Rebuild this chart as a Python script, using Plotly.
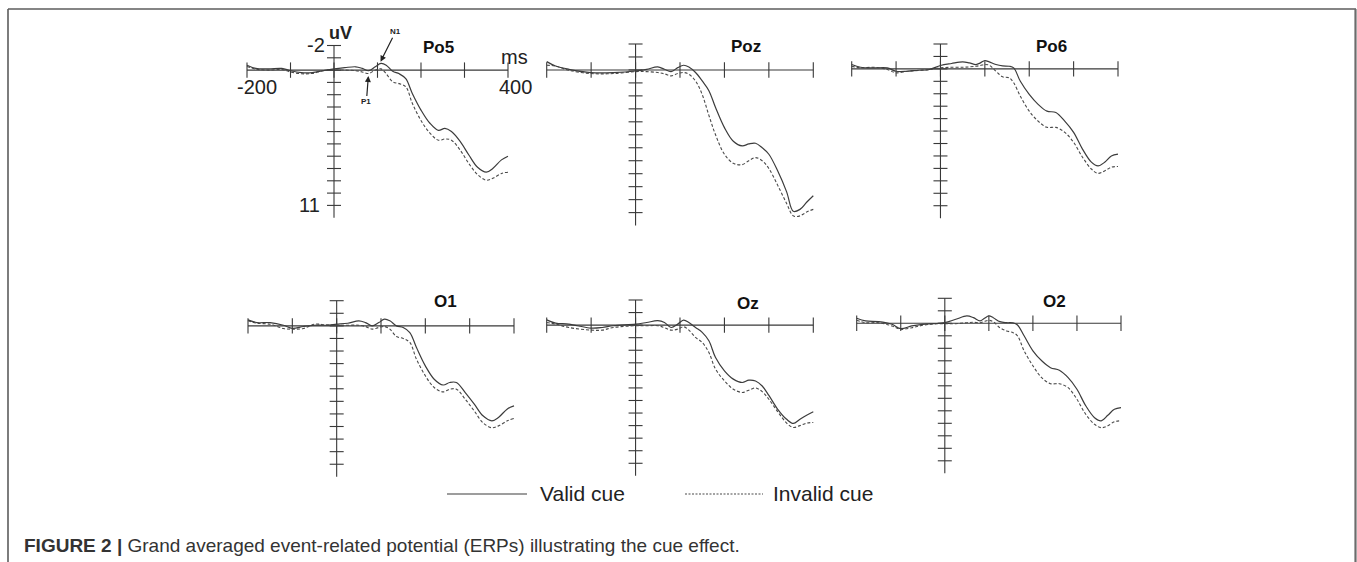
import plotly.graph_objects as go

W, H = 1357, 562

# ---------------- data (ms, uV; negative plotted upward) ----------------
channels = ["Po5", "Poz", "Po6", "O1", "Oz", "O2"]

t_po5 = [-200, -180, -150, -120, -100, -75, -50, -25, 0, 25, 50, 65, 80, 95, 108, 120, 135, 150, 165, 180, 200, 220, 240, 255, 270, 290, 310, 330, 350, 365, 385, 400]
po5_valid = [-0.4, -0.14, -0.1, -0.14, 0.05, 0.2, 0.2, 0.05, -0.1, -0.2, -0.27, -0.14, 0.05, -0.27, -0.54, -0.4, 0.1, 0.3, 0.7, 1.9, 3.25, 4.3, 4.9, 4.74, 5.0, 5.8, 6.9, 7.9, 8.3, 8.0, 7.3, 7.0]
po5_invalid = [-0.3, -0.08, 0.0, -0.05, 0.15, 0.3, 0.27, 0.05, 0.0, 0.0, 0.05, 0.15, 0.27, 0.0, -0.1, 0.3, 0.95, 1.1, 1.35, 2.7, 4.1, 5.1, 5.7, 5.6, 5.7, 6.5, 7.6, 8.5, 8.95, 8.8, 8.4, 8.3]

t_poz = [-200, -180, -150, -100, -50, 0, 25, 50, 65, 80, 95, 108, 120, 135, 150, 165, 180, 200, 220, 240, 255, 270, 285, 300, 320, 340, 355, 370, 385, 400]
poz_valid = [-0.64, -0.3, -0.05, 0.2, 0.2, 0.08, -0.05, -0.23, -0.05, 0.13, -0.18, -0.36, -0.23, 0.2, 0.85, 1.6, 2.9, 4.45, 5.5, 5.86, 5.7, 5.65, 6.0, 6.5, 7.8, 9.4, 10.9, 10.75, 10.2, 9.7]
poz_invalid = [-0.36, -0.3, 0.03, 0.28, 0.28, 0.13, 0.13, 0.2, 0.3, 0.46, 0.28, 0.2, 0.33, 0.85, 1.9, 3.5, 5.0, 6.5, 7.2, 7.3, 7.0, 6.76, 7.0, 7.6, 8.9, 10.3, 11.25, 11.25, 10.95, 10.75]

t_po6 = [-200, -180, -150, -120, -100, -75, -50, -25, 0, 25, 50, 65, 80, 90, 100, 110, 125, 140, 155, 165, 180, 200, 220, 240, 260, 280, 300, 320, 340, 355, 370, 385, 400]
po6_valid = [-0.35, -0.13, -0.08, -0.08, 0.19, 0.19, 0.11, 0.05, -0.27, -0.43, -0.56, -0.48, -0.35, -0.48, -0.67, -0.56, -0.35, -0.24, -0.21, -0.08, 1.0, 2.05, 2.85, 3.4, 3.5, 4.2, 5.1, 6.45, 7.5, 7.8, 7.5, 7.0, 6.85]
po6_invalid = [-0.2, -0.08, -0.13, 0.05, 0.32, 0.19, 0.13, 0.05, -0.08, -0.13, -0.13, -0.16, -0.21, -0.27, -0.35, -0.29, 0.19, 0.64, 0.72, 1.12, 2.2, 3.4, 4.2, 4.7, 4.7, 5.1, 5.9, 7.1, 8.05, 8.4, 8.2, 7.9, 7.85]

t_o1 = [-200, -180, -150, -120, -100, -75, -50, -25, 0, 25, 50, 65, 80, 95, 108, 120, 135, 150, 165, 180, 200, 220, 240, 255, 270, 290, 310, 330, 350, 365, 385, 400]
o1_valid = [-0.48, -0.26, -0.26, -0.05, 0.2, 0.05, -0.05, -0.05, -0.13, -0.21, -0.4, -0.26, 0.0, -0.26, -0.53, -0.4, 0.0, 0.13, 0.53, 1.72, 3.18, 4.24, 4.7, 4.5, 4.5, 5.3, 6.2, 7.15, 7.55, 7.28, 6.6, 6.36]
o1_invalid = [-0.4, -0.21, -0.13, 0.21, 0.26, 0.21, -0.13, -0.08, -0.05, -0.05, -0.05, 0.05, 0.26, 0.13, 0.05, 0.26, 0.85, 1.0, 1.32, 2.65, 3.97, 4.9, 5.25, 5.03, 5.03, 5.83, 6.75, 7.7, 8.1, 7.95, 7.55, 7.36]

t_oz = [-200, -180, -150, -100, -75, -50, 0, 25, 50, 65, 80, 95, 108, 120, 135, 150, 165, 180, 200, 220, 240, 255, 270, 285, 300, 320, 340, 355, 370, 385, 400]
oz_valid = [-0.42, -0.16, -0.08, 0.24, 0.19, 0.05, -0.08, -0.21, -0.35, -0.21, 0.19, -0.08, -0.4, -0.21, 0.19, 0.58, 1.25, 2.58, 3.64, 4.3, 4.57, 4.38, 4.45, 4.85, 5.6, 6.7, 7.5, 7.83, 7.49, 7.17, 6.9]
oz_invalid = [-0.21, -0.08, 0.19, 0.4, 0.4, 0.19, 0.05, 0.05, 0.05, 0.2, 0.4, 0.32, 0.13, 0.4, 0.98, 1.38, 2.18, 3.5, 4.43, 5.1, 5.36, 5.18, 5.0, 5.3, 5.9, 6.9, 7.8, 8.15, 8.0, 7.8, 7.75]

t_o2 = [-200, -180, -150, -120, -100, -75, -50, -25, 0, 25, 50, 65, 80, 90, 100, 110, 125, 140, 155, 165, 180, 200, 220, 240, 260, 280, 300, 320, 340, 355, 370, 385, 400]
o2_valid = [-0.4, -0.19, -0.13, 0.08, 0.43, 0.21, 0.08, 0.03, -0.05, -0.32, -0.59, -0.45, -0.19, -0.4, -0.59, -0.45, -0.13, -0.05, -0.03, 0.13, 1.0, 2.2, 3.0, 3.55, 3.76, 4.35, 5.28, 6.6, 7.55, 7.8, 7.36, 6.88, 6.75]
o2_invalid = [-0.24, -0.05, -0.05, 0.21, 0.48, 0.35, 0.16, 0.05, 0.03, 0.03, -0.05, -0.08, -0.05, -0.16, -0.24, -0.13, 0.35, 0.61, 0.75, 1.0, 2.2, 3.4, 4.35, 4.83, 4.83, 5.15, 6.08, 7.28, 8.08, 8.35, 8.2, 7.87, 7.8]

times = [t_po5, t_poz, t_po6, t_o1, t_oz, t_o2]
valid = [po5_valid, poz_valid, po6_valid, o1_valid, oz_valid, o2_valid]
invalid = [po5_invalid, poz_invalid, po6_invalid, o1_invalid, oz_invalid, o2_invalid]

x_ticks = [-200, -100, 0, 100, 200, 300, 400]
y_ticks = list(range(-2, 12))
legend_labels = ["Valid cue", "Invalid cue"]
caption_bold = "FIGURE 2 |"
caption_text = "Grand averaged event-related potential (ERPs) illustrating the cue effect."

# ---------------- layout geometry (pixels): x at -200, x at 400, y at -2 uV, px per uV ----------------
geom = [
    (247.0, 508.0, 45.5, 12.3),
    (546.7, 813.3, 44.0, 12.97),
    (851.7, 1118.0, 44.0, 12.44),
    (248.0, 514.0, 300.7, 12.58),
    (546.7, 813.3, 300.0, 12.56),
    (856.7, 1121.0, 298.3, 12.5),
]
label_pos = [(241, -1.8), (249, -1.8), (251, -1.8), (245, -1.9), (253, -1.76), (250, -1.78)]

FONT = "Liberation Sans, Arial, sans-serif"
AX = "#383838"
LINE_SOLID = "#3c3c3c"
LINE_DASH = "#4a4a4a"
XPAD, YPAD = 15, 0.6
YMIN, YMAX = -2, 12

fig = go.Figure()
layout = dict(
    width=W, height=H,
    margin=dict(l=0, r=0, t=0, b=0),
    paper_bgcolor="white", plot_bgcolor="rgba(0,0,0,0)",
    showlegend=False,
    font=dict(family=FONT, color="#222"),
)
annotations = []

for i, ch in enumerate(channels):
    n = "" if i == 0 else str(i + 1)
    xa, ya = "x" + n, "y" + n
    x0, x1, ym2, pu = geom[i]
    pxms = (x1 - x0) / 600.0
    dx = [(x0 - XPAD * pxms) / W, (x1 + XPAD * pxms) / W]
    ytop = ym2 - YPAD * pu
    ybot = ym2 + (YMAX - YMIN + YPAD) * pu
    dy = [1 - ybot / H, 1 - ytop / H]
    layout["xaxis" + n] = dict(domain=dx, range=[-200 - XPAD, 400 + XPAD], visible=False, fixedrange=True)
    layout["yaxis" + n] = dict(domain=dy, range=[YMAX + YPAD, YMIN - YPAD], visible=False, fixedrange=True)

    # axes crossing at zero
    fig.add_trace(go.Scatter(x=[x_ticks[0], x_ticks[-1]], y=[0, 0], mode="lines",
                             line=dict(color=AX, width=1.1), xaxis=xa, yaxis=ya, hoverinfo="skip"))
    fig.add_trace(go.Scatter(x=x_ticks, y=[0] * len(x_ticks), mode="markers", cliponaxis=False,
                             marker=dict(symbol="line-ns", size=11, line=dict(color=AX, width=1.1)),
                             xaxis=xa, yaxis=ya, hoverinfo="skip"))
    fig.add_trace(go.Scatter(x=[0, 0], y=[YMIN, YMAX], mode="lines",
                             line=dict(color=AX, width=1.1), xaxis=xa, yaxis=ya, hoverinfo="skip"))
    fig.add_trace(go.Scatter(x=[0] * len(y_ticks), y=y_ticks, mode="markers", cliponaxis=False,
                             marker=dict(symbol="line-ew", size=10, line=dict(color=AX, width=1.1)),
                             xaxis=xa, yaxis=ya, hoverinfo="skip"))
    # waveforms
    fig.add_trace(go.Scatter(x=times[i], y=invalid[i], mode="lines", line_shape="spline",
                             line=dict(color=LINE_DASH, width=1.1, dash="3px,2px"),
                             name=legend_labels[1], xaxis=xa, yaxis=ya))
    fig.add_trace(go.Scatter(x=times[i], y=valid[i], mode="lines", line_shape="spline",
                             line=dict(color=LINE_SOLID, width=1.2),
                             name=legend_labels[0], xaxis=xa, yaxis=ya))

    lx, ly = label_pos[i]
    annotations.append(dict(x=lx, y=ly, xref=xa, yref=ya, text="<b>%s</b>" % ch, showarrow=False,
                            font=dict(size=17, color="#111", family=FONT),
                            xanchor="center", yanchor="middle"))

# axis labels on the first panel
big = dict(size=20, color="#222", family=FONT)
annotations += [
    dict(x=0, y=-2, xref="x", yref="y", text="-2", showarrow=False, font=big,
         xanchor="right", yanchor="middle", xshift=-7),
    dict(x=0, y=-2, xref="x", yref="y", text="<b>uV</b>", showarrow=False,
         font=dict(size=18, color="#222", family=FONT),
         xanchor="center", yanchor="middle", xshift=6, yshift=12),
    dict(x=0, y=11, xref="x", yref="y", text="11", showarrow=False, font=big,
         xanchor="right", yanchor="middle", xshift=-12),
    dict(x=-200, y=0, xref="x", yref="y", text="-200", showarrow=False, font=big,
         xanchor="center", yanchor="middle", xshift=10, yshift=-17),
    dict(x=400, y=0, xref="x", yref="y", text="400", showarrow=False, font=big,
         xanchor="center", yanchor="middle", xshift=8, yshift=-17),
    dict(x=400, y=0, xref="x", yref="y", text="ms", showarrow=False, font=big,
         xanchor="center", yanchor="middle", xshift=7, yshift=13),
    dict(x=107, y=-0.68, xref="x", yref="y", text="<b>N1</b>", showarrow=True,
         ax=15, ay=-30, arrowhead=2, arrowsize=1, arrowwidth=1.2, arrowcolor="#222",
         font=dict(size=8, color="#222")),
    dict(x=79, y=0.48, xref="x", yref="y", text="<b>P1</b>", showarrow=True,
         ax=-2, ay=26, arrowhead=2, arrowsize=1, arrowwidth=1.2, arrowcolor="#222",
         font=dict(size=8, color="#222")),
]

# legend
LEG_Y = 494
shapes = [
    dict(type="line", xref="paper", yref="paper", x0=447 / W, x1=527 / W, y0=1 - LEG_Y / H, y1=1 - LEG_Y / H,
         line=dict(color=LINE_SOLID, width=1.2)),
    dict(type="line", xref="paper", yref="paper", x0=685 / W, x1=763 / W, y0=1 - LEG_Y / H, y1=1 - LEG_Y / H,
         line=dict(color=LINE_DASH, width=1.1, dash="2px,1.5px")),
    # frame
    dict(type="line", xref="paper", yref="paper", x0=8 / W, x1=1356 / W, y0=1 - 9 / H, y1=1 - 9 / H,
         line=dict(color="#5c5c5c", width=1.6)),
    dict(type="line", xref="paper", yref="paper", x0=8 / W, x1=8 / W, y0=0, y1=1 - 9 / H,
         line=dict(color="#5c5c5c", width=1.6)),
    dict(type="line", xref="paper", yref="paper", x0=1355.5 / W, x1=1355.5 / W, y0=0, y1=1 - 9 / H,
         line=dict(color="#6c6c6c", width=2.2)),
]
leg_font = dict(size=21, color="#222", family=FONT)
annotations += [
    dict(x=538 / W, y=1 - LEG_Y / H, xref="paper", yref="paper", text=legend_labels[0], showarrow=False,
         font=leg_font, xanchor="left", yanchor="middle"),
    dict(x=771 / W, y=1 - LEG_Y / H, xref="paper", yref="paper", text=legend_labels[1], showarrow=False,
         font=leg_font, xanchor="left", yanchor="middle"),
    dict(x=22 / W, y=1 - 545 / H, xref="paper", yref="paper",
         text="<b>%s</b> %s" % (caption_bold, caption_text), showarrow=False,
         font=dict(size=19, color="#333", family=FONT),
         xanchor="left", yanchor="middle"),
]

layout["annotations"] = annotations
layout["shapes"] = shapes
fig.update_layout(**layout)
fig.write_html("out.html", config={"displayModeBar": False},
               post_script="document.body.style.margin='0';document.body.style.overflow='hidden';")
